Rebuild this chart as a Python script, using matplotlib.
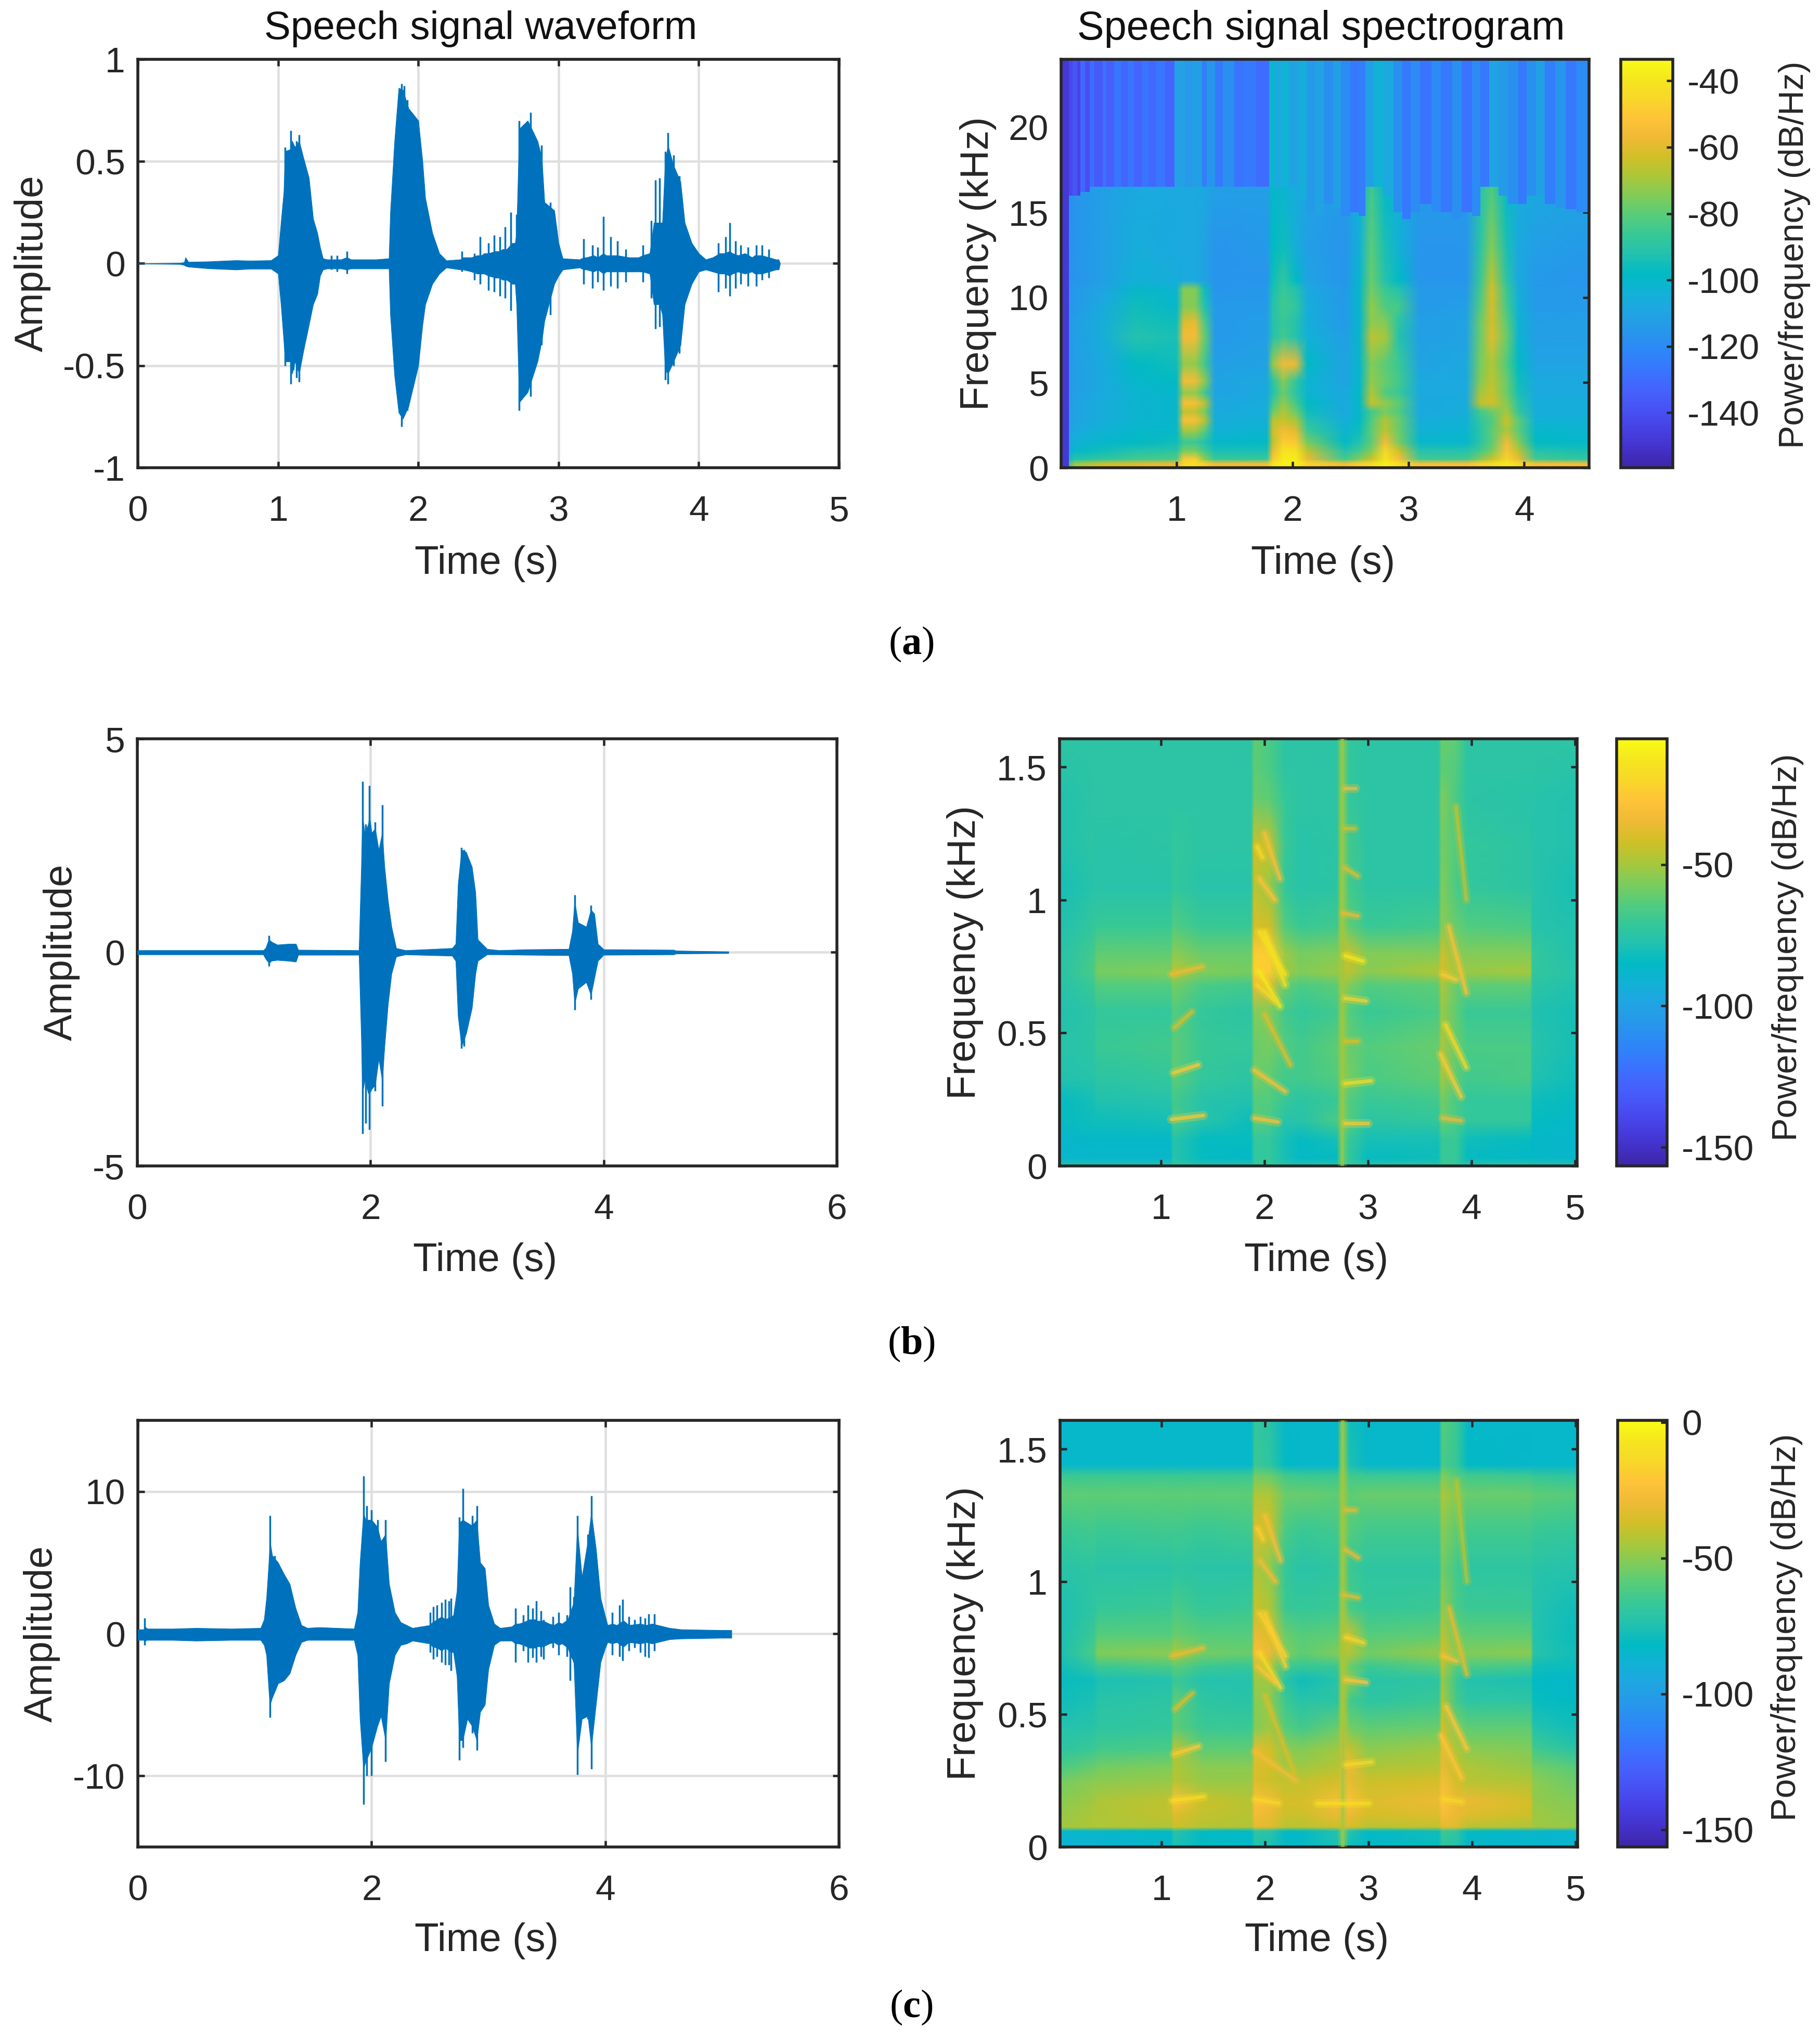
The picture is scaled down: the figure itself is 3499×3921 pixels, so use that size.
#!/usr/bin/env python3

import numpy as np
import matplotlib
matplotlib.use("Agg")
import matplotlib.pyplot as plt
from matplotlib.colors import LinearSegmentedColormap, Normalize

W, H = 3499, 3921
DPI = 250

# ---- waveform envelopes (time, upper, lower)
a_t = [0, .3, .33, .34, .36, .5, .7, .8, .95, 1.0,
       1.02, 1.04, 1.05, 1.09, 1.10, 1.12, 1.15, 1.18, 1.22, 1.25,
       1.28, 1.3, 1.32, 1.35, 1.45, 1.49, 1.52, 1.7, 1.79, 1.8,
       1.83, 1.86, 1.89, 1.93, 2.0, 2.03, 2.05, 2.1, 2.15, 2.2,
       2.3, 2.32, 2.38, 2.42, 2.45, 2.47, 2.5, 2.55, 2.58, 2.6,
       2.63, 2.67, 2.69, 2.7, 2.72, 2.78, 2.85, 2.88, 2.9, 2.97,
       3.0, 3.03, 3.15, 3.18, 3.2, 3.25, 3.28, 3.32, 3.34, 3.38,
       3.42, 3.5, 3.57, 3.6, 3.65, 3.68, 3.7, 3.72, 3.74, 3.76,
       3.78, 3.82, 3.87, 3.9, 3.95, 4.0, 4.05, 4.1, 4.15, 4.18,
       4.22, 4.24, 4.28, 4.33, 4.38, 4.4, 4.45, 4.5, 4.55, 4.57, 4.58]
a_up = [0, .003, .006, .03, .008, .01, .016, .014, .016, .04,
        .2, .35, .55, .56, .6, .57, .6, .52, .42, .22,
        .15, .08, .025, .02, .02, .03, .02, .02, .025, .25,
        .6, .86, .85, .76, .7, .5, .32, .15, .05, .015,
        .02, .03, .03, .04, .04, .05, .05, .06, .06, .07,
        .07, .1, .1, .15, .66, .7, .6, .52, .3, .26,
        .1, .025, .02, .03, .03, .04, .03, .05, .04, .04,
        .04, .03, .03, .04, .05, .2, .2, .2, .2, .5,
        .58, .48, .4, .2, .1, .05, .02, .03, .05, .05,
        .06, .05, .04, .05, .03, .04, .04, .03, .02, .02, 0]
a_low = [0, -.003, -.008, -.012, -.016, -.024, -.03, -.026, -.026, -.05,
         -.2, -.38, -.48, -.48, -.54, -.48, -.54, -.43, -.3, -.2,
         -.15, -.06, -.03, -.025, -.025, -.03, -.025, -.025, -.025, -.25,
         -.55, -.73, -.76, -.7, -.5, -.3, -.2, -.1, -.05, -.02,
         -.03, -.03, -.04, -.05, -.05, -.05, -.06, -.07, -.07, -.08,
         -.08, -.1, -.1, -.2, -.68, -.63, -.48, -.38, -.28, -.1,
         -.06, -.03, -.02, -.03, -.03, -.04, -.03, -.05, -.04, -.04,
         -.04, -.04, -.04, -.04, -.05, -.2, -.2, -.2, -.25, -.52,
         -.54, -.48, -.4, -.2, -.1, -.04, -.03, -.04, -.05, -.05,
         -.06, -.05, -.04, -.05, -.04, -.05, -.05, -.04, -.03, -.03, 0]
# single spikes standing out of the envelope: t, top, bottom
a_spikes = [
    (1.38, .04, -.03), (1.42, .04, -.04), (1.49, .06, -.05), (1.05, .57, -.5), (1.09, .65, -.59), (1.15, .63, -.58),
    (1.11, .58, -.52), (1.13, .6, -.56), (1.88, .88, -.8), (1.9, .87, -.74), (1.92, .8, -.72), (2.31, .06, -.04),
    (2.4, .05, -.08), (2.44, .13, -.1), (2.5, .1, -.13), (2.54, .14, -.14), (2.58, .13, -.16), (2.62, .18, -.17),
    (2.66, .25, -.23), (2.7, .24, -.15), (2.72, .7, -.72), (2.8, .74, -.65), (2.88, .58, -.4), (2.94, .3, -.25),
    (3.18, .12, -.1), (3.24, .09, -.12), (3.28, .08, -.09), (3.32, .23, -.13), (3.37, .13, -.11), (3.42, .11, -.12),
    (3.48, .07, -.09), (3.6, .09, -.09), (3.66, .21, -.17), (3.69, .41, -.32), (3.72, .42, -.31), (3.76, .55, -.57),
    (3.78, .64, -.59), (3.82, .53, -.5), (3.86, .43, -.44), (4.14, .1, -.14), (4.19, .13, -.12), (4.22, .2, -.16),
    (4.26, .11, -.12), (4.3, .09, -.1), (4.35, .08, -.11), (4.41, .09, -.11), (4.45, .09, -.08), (4.5, .07, -.07),
]

b_t = [0, 1.08, 1.1, 1.12, 1.13, 1.15, 1.2, 1.3, 1.36, 1.38,
       1.9, 1.92, 1.93, 1.95, 1.98, 1.99, 2.01, 2.04, 2.07, 2.1,
       2.12, 2.15, 2.18, 2.22, 2.3, 2.55, 2.7, 2.73, 2.75, 2.78,
       2.82, 2.87, 2.9, 2.92, 3.0, 3.1, 3.35, 3.7, 3.73, 3.75,
       3.78, 3.85, 3.89, 3.92, 3.95, 4.0, 4.6, 4.62, 5.07]
b_up = [.05, .05, .1, .25, .3, .25, .18, .2, .2, .06,
        .05, 2, 3.2, 2.8, 3, 3.2, 2.8, 2.9, 2.4, 2.8,
        2, 1.2, .6, .1, .05, .08, .1, .2, 1.6, 2.4,
        2.35, 2, 1.4, .3, .08, .05, .07, .08, .5, 1.2,
        .7, .6, 1, .9, .2, .07, .06, .04, .02]
b_low = [-.05, -.05, -.15, -.22, -.25, -.2, -.18, -.2, -.22, -.06,
         -.06, -2, -3.3, -3, -3.3, -3.3, -3.2, -3.1, -2.5, -3,
         -2.2, -1.2, -.5, -.1, -.05, -.07, -.08, -.2, -1.5, -2.2,
         -1.9, -1.3, -.5, -.2, -.05, -.05, -.06, -.07, -.5, -1.2,
         -.85, -.7, -1, -.6, -.2, -.06, -.05, -.03, -.02]
b_spikes = [
    (1.13, .4, -.32), (1.93, 4, -4.25), (1.99, 3.9, -4.15), (1.96, 3, -4), (2.04, 3.05, -3.25), (2.1, 3.45, -3.6),
    (2.78, 2.45, -2.25), (2.8, 2.4, -2.2), (3.75, 1.35, -1.35), (3.89, 1.1, -1.1),
]

c_t = [0, .05, .06, .08, .3, .5, .8, 1.05, 1.08, 1.1,
       1.12, 1.13, 1.15, 1.2, 1.25, 1.3, 1.35, 1.4, 1.45, 1.55,
       1.85, 1.88, 1.9, 1.93, 1.95, 2.0, 2.05, 2.08, 2.12, 2.15,
       2.2, 2.25, 2.3, 2.35, 2.5, 2.52, 2.56, 2.6, 2.63, 2.68,
       2.7, 2.73, 2.75, 2.78, 2.82, 2.86, 2.9, 2.93, 2.97, 3.0,
       3.05, 3.1, 3.2, 3.23, 3.26, 3.3, 3.35, 3.4, 3.42, 3.47,
       3.52, 3.56, 3.6, 3.63, 3.68, 3.7, 3.73, 3.76, 3.8, 3.85,
       3.88, 3.92, 3.96, 4.0, 4.02, 4.06, 4.1, 4.13, 4.16, 4.2,
       4.3, 4.35, 4.4, 4.45, 4.55, 4.65, 5.0, 5.08]
c_up = [.3, .3, .5, .35, .35, .4, .35, .4, 1, 2.5,
        5, 6.5, 5.5, 5, 4.2, 3.5, 1.8, .6, .4, .45,
        .35, 1.5, 5, 8.5, 8, 8, 7.5, 6.5, 7, 3.5,
        1.5, .8, .6, .4, .6, .8, 1, 1.2, 1, 1.2,
        1.3, 3, 7.8, 8, 7.8, 7.6, 8, 5, 4.6, 2,
        .7, .4, .5, .7, .7, .8, 1, 1, .9, .9,
        .7, .6, .8, .7, 1, 1.5, 2.2, 7.5, 4, 6.5,
        8.5, 6, 2.5, 1.2, .6, .7, .6, .8, .9, .6,
        .7, .6, .7, .6, .4, .3, .25, .25]
c_low = [-.45, -.45, -.5, -.45, -.45, -.5, -.45, -.45, -.8, -1.5,
         -4, -5, -4.5, -3.5, -3.3, -2.8, -1.5, -.6, -.45, -.45,
         -.45, -1.5, -6, -9.5, -9, -8, -6.5, -5.8, -7.5, -3.5,
         -1.5, -.8, -.7, -.5, -.7, -.9, -1, -1.2, -1, -1.3,
         -1.3, -3, -7.5, -7.5, -6, -6.5, -7.5, -5.5, -5, -2.5,
         -.8, -.5, -.5, -.7, -.7, -.8, -1, -1, -.9, -.9,
         -.7, -.6, -.8, -.7, -1, -1.5, -2, -8.5, -6, -5.8,
         -8, -5, -2, -1, -.6, -.7, -.6, -.8, -.9, -.6,
         -.7, -.6, -.7, -.6, -.4, -.35, -.3, -.3]
c_spikes = [
    (.06, 1.1, -.8), (1.13, 8.3, -5.9), (1.17, 5.5, -4), (1.93, 11.1, -12), (1.96, 9, -10), (2.0, 8.7, -10),
    (2.05, 8, -6), (2.12, 8, -9), (2.5, 1.5, -1.3), (2.53, 1.9, -1.8), (2.56, 2, -1.6), (2.6, 2.2, -2),
    (2.63, 2.4, -2.2), (2.66, 2.3, -2.2), (2.68, 2.5, -2.6), (2.75, 8.2, -8.9), (2.78, 10.2, -8), (2.86, 8.3, -7),
    (2.9, 9, -8.2), (3.23, 1.8, -2), (3.3, 1.3, -1.2), (3.34, 2, -2), (3.38, 1.8, -1.7), (3.41, 2.3, -2),
    (3.45, 1.6, -1.6), (3.47, 1, -1.8), (3.55, 1.2, -1), (3.6, 1.5, -1.5), (3.67, 1.3, -1.6), (3.7, 3.3, -3.3),
    (3.73, 2.6, -2), (3.76, 8.3, -9.9), (3.85, 7, -6), (3.88, 9.7, -9.5), (4.06, 1.5, -1.5), (4.12, 2, -1.6),
    (4.15, 2.4, -1.9), (4.2, 1.2, -1.2), (4.25, 1, -1), (4.3, 1.2, -1.3), (4.34, 1.1, -1.6), (4.37, 1.4, -1.7),
    (4.42, 1.4, -1.2),
]

# ---- spectrogram (a): dB on a time/frequency grid, rows from low to high frequency
sa_t = [.03, .12, .35, .65, 1.0, 1.06, 1.16, 1.24, 1.33, 1.78, 1.83, 1.92, 2.03, 2.13,
        2.45, 2.58, 2.68, 2.8, 2.92, 3.1, 3.5, 3.62, 3.72, 3.85, 3.95, 4.1, 4.56]
sa_f = [0, .25, .5, 1, 1.5, 2.2, 2.8, 3.3, 3.8, 4.4, 5.1, 6.1, 7.7, 8.5, 9.5, 10.5, 11, 13, 16.5]
sa_db = [
    [-100, -70, -62, -60, -58, -46, -44, -50, -58, -56, -40, -38, -38, -48, -56, -48, -44, -36, -42, -52, -52, -48, -46, -40, -45, -52, -54],
    [-100, -72, -64, -60, -58, -44, -42, -48, -56, -56, -40, -36, -36, -46, -56, -48, -44, -36, -42, -54, -54, -48, -44, -38, -44, -54, -56],
    [-106, -92, -88, -84, -82, -50, -48, -72, -86, -86, -50, -38, -38, -58, -84, -74, -64, -40, -54, -84, -84, -74, -64, -46, -58, -84, -88],
    [-110, -100, -96, -92, -90, -76, -76, -84, -94, -94, -58, -40, -42, -66, -92, -84, -74, -46, -64, -92, -92, -84, -76, -52, -66, -92, -94],
    [-112, -104, -100, -98, -96, -86, -86, -92, -100, -98, -66, -48, -50, -76, -98, -92, -80, -56, -76, -100, -100, -90, -80, -56, -74, -98, -100],
    [-112, -108, -104, -100, -100, -70, -70, -80, -104, -102, -64, -56, -60, -86, -102, -96, -80, -66, -78, -104, -102, -90, -80, -68, -80, -100, -102],
    [-114, -110, -106, -102, -100, -54, -54, -66, -106, -104, -68, -64, -70, -92, -106, -98, -82, -68, -78, -106, -104, -88, -82, -64, -80, -104, -104],
    [-114, -110, -106, -102, -100, -66, -66, -76, -108, -106, -78, -68, -78, -96, -108, -100, -84, -76, -82, -108, -106, -84, -78, -70, -88, -106, -106],
    [-114, -110, -106, -102, -100, -54, -54, -66, -108, -106, -84, -72, -84, -98, -108, -98, -64, -72, -80, -108, -106, -66, -62, -74, -90, -106, -106],
    [-116, -112, -108, -102, -100, -72, -72, -84, -110, -108, -92, -78, -90, -102, -108, -98, -68, -82, -86, -108, -108, -70, -64, -78, -94, -108, -108],
    [-116, -112, -108, -100, -98, -56, -56, -72, -110, -108, -90, -74, -88, -102, -110, -100, -72, -78, -84, -108, -108, -74, -66, -78, -96, -108, -108],
    [-116, -112, -108, -98, -96, -72, -72, -84, -112, -110, -72, -56, -58, -98, -110, -100, -74, -80, -86, -110, -108, -76, -68, -82, -98, -110, -110],
    [-116, -112, -106, -92, -94, -56, -56, -78, -114, -112, -92, -84, -92, -104, -112, -100, -66, -70, -92, -112, -110, -78, -60, -78, -102, -112, -112],
    [-116, -112, -106, -94, -96, -60, -58, -82, -114, -112, -92, -86, -92, -106, -114, -100, -72, -74, -90, -112, -110, -78, -62, -80, -102, -112, -112],
    [-116, -114, -108, -96, -100, -74, -74, -92, -114, -114, -92, -84, -88, -106, -114, -100, -72, -82, -84, -114, -112, -82, -62, -84, -104, -114, -114],
    [-116, -114, -110, -100, -102, -74, -74, -96, -116, -114, -94, -86, -92, -108, -114, -100, -76, -86, -92, -114, -114, -84, -62, -86, -106, -114, -114],
    [-118, -116, -112, -104, -106, -108, -108, -110, -116, -116, -96, -88, -98, -110, -116, -100, -78, -92, -98, -116, -116, -86, -66, -90, -108, -114, -116],
    [-118, -116, -112, -106, -108, -108, -108, -110, -116, -114, -98, -96, -106, -112, -116, -104, -80, -94, -104, -116, -116, -90, -74, -94, -108, -112, -114],
    [-120, -116, -112, -108, -108, -108, -108, -108, -112, -112, -100, -102, -106, -110, -114, -104, -84, -100, -104, -114, -114, -92, -82, -100, -106, -108, -110],
]
# vertical stripes above the band limit
stripe_t = [0, .07, .10, .14, .17, .21, .25, .29, .36, .39,
            .46, .52, .58, .63, .70, .76, .82, .90, .98, 1.07,
            1.13, 1.22, 1.26, 1.33, 1.40, 1.50, 1.58, 1.68, 1.80, 1.85,
            1.90, 1.97, 2.05, 2.12, 2.2, 2.27, 2.35, 2.42, 2.5, 2.57,
            2.63, 2.70, 2.78, 2.87, 2.95, 3.02, 3.1, 3.2, 3.28, 3.38,
            3.46, 3.55, 3.62, 3.70, 3.78, 3.86, 3.95, 4.02, 4.1, 4.18,
            4.27, 4.36, 4.45, 4.56]
stripe_db = [-148, -142, -138, -144, -132, -140, -130, -136, -128, -134,
             -127, -132, -127, -133, -128, -132, -127, -133, -111, -115,
             -112, -124, -116, -126, -118, -128, -126, -130, -102, -108,
             -104, -110, -106, -114, -110, -118, -112, -120, -126, -124,
             -112, -104, -108, -118, -126, -120, -128, -120, -126, -118,
             -128, -120, -126, -110, -114, -118, -126, -118, -112, -124,
             -116, -126, -120]
stripe_cut = [0, 16, 16, 16, 16.2, 16.2, 16.5, 16.5, 16.5, 16.5,
              16.5, 16.5, 16.5, 16.5, 16.5, 16.5, 16.5, 16.5, 16.5, 16.5,
              16.5, 16.5, 16.5, 16.5, 16.5, 16.5, 16.5, 16.5, 16.5, 16.5,
              16.5, 16.5, 15.7, 15, 14.8, 15.5, 15.3, 14.8, 15, 14.8,
              16.5, 16.5, 16, 15, 14.6, 15, 15.5, 15, 15, 14.6,
              15, 14.8, 16.5, 16.5, 16, 15.5, 15.5, 16, 16, 15.5,
              15.3, 15.2, 15]

# ---- spectrograms (b) and (c)
s_t = [.02, .35, .38, 1.09, 1.12, 1.4, 1.87, 1.9, 2.05, 2.2, 2.35,
       2.71, 2.74, 2.82, 3.0, 3.68, 3.71, 3.85, 3.96, 4.57, 4.59, 5.02]
sb_f = [0, .03, .1, .17, .25, .33, .45, .58, .68, .73, .8, .9, 1.05, 1.2, 1.38, 1.5, 1.606]
sb_db = [
    [-78, -78, -78, -78, -72, -78, -78, -72, -72, -76, -78, -76, -68, -72, -76, -76, -70, -72, -76, -76, -76, -78],
    [-88, -88, -88, -88, -76, -84, -86, -72, -72, -80, -86, -84, -68, -72, -84, -82, -70, -70, -84, -86, -86, -88],
    [-88, -86, -86, -86, -76, -84, -84, -72, -72, -80, -84, -80, -66, -70, -80, -80, -70, -70, -82, -84, -86, -88],
    [-84, -82, -82, -80, -66, -76, -82, -62, -66, -76, -76, -66, -56, -64, -74, -72, -60, -66, -72, -72, -84, -86],
    [-84, -80, -78, -76, -68, -76, -78, -64, -64, -70, -74, -70, -58, -64, -70, -68, -58, -66, -72, -72, -82, -84],
    [-78, -76, -74, -72, -62, -72, -74, -58, -62, -68, -68, -64, -54, -58, -66, -62, -50, -62, -68, -66, -78, -82],
    [-76, -74, -70, -68, -62, -70, -72, -60, -58, -64, -68, -62, -52, -60, -64, -60, -48, -60, -66, -66, -76, -80],
    [-78, -74, -72, -72, -64, -72, -74, -56, -56, -68, -72, -68, -54, -64, -70, -66, -52, -62, -70, -70, -78, -80],
    [-76, -70, -64, -64, -58, -66, -68, -36, -38, -60, -66, -62, -50, -56, -64, -62, -48, -60, -62, -62, -74, -78],
    [-76, -66, -58, -56, -46, -56, -58, -22, -24, -50, -56, -52, -44, -46, -54, -48, -40, -50, -52, -50, -72, -76],
    [-76, -68, -62, -62, -54, -60, -60, -24, -24, -52, -58, -56, -42, -44, -56, -56, -42, -54, -56, -56, -72, -78],
    [-78, -72, -70, -70, -64, -70, -70, -40, -42, -64, -70, -68, -52, -62, -70, -68, -54, -60, -64, -66, -76, -78],
    [-80, -76, -76, -76, -72, -76, -76, -46, -52, -72, -76, -74, -54, -68, -74, -74, -56, -66, -72, -74, -76, -80],
    [-78, -74, -76, -74, -72, -74, -74, -42, -44, -70, -76, -74, -56, -68, -74, -74, -58, -64, -72, -74, -76, -78],
    [-78, -74, -74, -74, -74, -74, -74, -60, -62, -72, -74, -74, -58, -72, -74, -74, -56, -66, -74, -76, -76, -78],
    [-76, -74, -74, -74, -74, -74, -74, -62, -66, -74, -74, -74, -60, -72, -74, -74, -62, -64, -74, -74, -74, -76],
    [-74, -74, -74, -74, -74, -74, -74, -62, -66, -74, -74, -74, -58, -72, -74, -74, -60, -62, -74, -74, -74, -74],
]
sc_f = [0, .06, .075, .12, .17, .25, .3, .37, .45, .55, .63, .68, .73, .8, .9, 1.05, 1.2, 1.33, 1.4, 1.44, 1.608]
sc_db = [
    [-88, -88, -88, -84, -76, -82, -84, -74, -76, -84, -84, -76, -66, -78, -84, -80, -70, -72, -84, -86, -86, -86],
    [-84, -84, -84, -82, -72, -82, -82, -70, -72, -82, -82, -74, -62, -74, -82, -78, -66, -70, -82, -84, -84, -86],
    [-46, -44, -44, -44, -38, -42, -44, -32, -34, -42, -42, -38, -30, -36, -42, -40, -32, -34, -42, -44, -46, -48],
    [-48, -44, -44, -40, -34, -40, -42, -28, -30, -38, -38, -30, -26, -30, -36, -34, -26, -30, -34, -38, -46, -50],
    [-50, -46, -44, -40, -24, -38, -42, -24, -28, -36, -36, -26, -20, -24, -34, -30, -22, -30, -30, -36, -48, -52],
    [-54, -50, -50, -48, -42, -48, -48, -34, -38, -40, -40, -36, -26, -32, -38, -36, -26, -36, -42, -44, -50, -56],
    [-62, -56, -54, -52, -44, -50, -50, -34, -36, -46, -46, -42, -30, -30, -44, -42, -30, -40, -44, -48, -54, -60],
    [-70, -66, -64, -62, -40, -58, -58, -32, -36, -50, -52, -46, -32, -40, -50, -46, -32, -44, -50, -52, -64, -72],
    [-74, -72, -70, -68, -58, -66, -66, -52, -46, -60, -64, -56, -40, -54, -58, -56, -36, -52, -58, -58, -74, -78],
    [-78, -76, -72, -70, -58, -70, -72, -50, -50, -66, -72, -70, -44, -64, -70, -66, -44, -64, -70, -70, -80, -82],
    [-80, -78, -76, -74, -66, -74, -74, -46, -46, -72, -78, -72, -42, -50, -72, -70, -48, -66, -74, -76, -82, -84],
    [-78, -70, -66, -62, -58, -66, -68, -40, -44, -64, -68, -66, -44, -56, -66, -60, -42, -60, -62, -64, -78, -80],
    [-76, -62, -52, -50, -44, -54, -56, -24, -30, -52, -58, -52, -40, -44, -54, -48, -36, -50, -52, -50, -72, -78],
    [-76, -66, -60, -60, -56, -60, -60, -30, -34, -56, -60, -58, -36, -40, -60, -58, -40, -56, -58, -58, -74, -80],
    [-76, -70, -68, -66, -62, -68, -66, -38, -44, -66, -68, -66, -48, -62, -68, -66, -48, -62, -66, -66, -74, -78],
    [-72, -70, -72, -72, -70, -72, -72, -44, -50, -68, -72, -70, -52, -66, -70, -70, -54, -64, -70, -70, -72, -74],
    [-66, -64, -66, -64, -64, -66, -64, -34, -38, -62, -66, -64, -50, -60, -64, -64, -50, -58, -64, -64, -66, -68],
    [-58, -58, -58, -58, -58, -58, -58, -44, -44, -56, -56, -58, -48, -58, -56, -56, -44, -52, -56, -56, -58, -60],
    [-66, -66, -66, -66, -66, -66, -66, -54, -56, -64, -66, -66, -52, -64, -66, -66, -52, -60, -64, -66, -68, -70],
    [-84, -84, -84, -84, -84, -84, -84, -66, -70, -82, -84, -84, -58, -76, -84, -84, -62, -68, -82, -84, -84, -84],
    [-84, -84, -84, -84, -84, -84, -84, -68, -72, -84, -84, -84, -60, -78, -84, -84, -60, -66, -84, -84, -84, -84],
]

# harmonic streaks: t0, f0, t1, f1, dB
sb_streaks = [
    (1.10, .175, 1.41, .19, -25), (1.12, .35, 1.36, .38, -25), (1.13, .52, 1.3, .58, -40), (1.1, .72, 1.4, .75, -35),
    (1.9, .18, 2.13, .165, -30), (1.9, .36, 2.2, .28, -30), (2.0, .57, 2.25, .38, -38),
    (1.95, .88, 2.2, .72, -15), (1.95, .73, 2.15, .6, -12), (2.0, .88, 2.2, .68, -15), (1.93, .68, 2.1, .62, -20),
    (2.0, 1.25, 2.15, 1.08, -30), (1.93, 1.2, 1.98, 1.16, -20), (1.95, 1.08, 2.1, 1.0, -28),
    (2.75, 0, 2.75, 1.606, -52), (2.78, .16, 3.0, .16, -25), (2.78, .31, 3.03, .32, -18), (2.78, .79, 2.95, .77, -12),
    (2.78, .63, 2.98, .62, -22), (2.76, .95, 2.9, .94, -35), (2.78, 1.12, 2.9, 1.09, -38), (2.78, 1.42, 2.88, 1.42, -32),
    (2.78, 1.27, 2.87, 1.27, -40), (2.78, .47, 2.9, .47, -40),
    (3.72, .18, 3.9, .17, -35), (3.75, .53, 3.95, .37, -20), (3.7, .42, 3.9, .26, -25), (3.78, .9, 3.95, .65, -30),
    (3.72, .72, 3.85, .7, -25), (3.85, 1.35, 3.95, 1.0, -45),
]
sc_streaks = [
    (1.10, .175, 1.41, .19, -12), (1.12, .35, 1.36, .38, -20), (1.13, .52, 1.3, .58, -35), (1.1, .72, 1.4, .75, -30),
    (1.9, .18, 2.13, .165, -15), (1.9, .36, 2.3, .25, -28), (2.0, .57, 2.28, .28, -35),
    (1.95, .88, 2.2, .72, -18), (1.95, .73, 2.15, .6, -14), (2.0, .88, 2.2, .68, -18), (1.93, .68, 2.1, .62, -22),
    (2.0, 1.25, 2.15, 1.08, -26), (1.93, 1.2, 1.98, 1.16, -18), (1.95, 1.08, 2.1, 1.0, -28),
    (2.75, 0, 2.75, 1.608, -46), (2.5, .165, 3.0, .165, -12), (2.78, .31, 3.03, .32, -14), (2.78, .79, 2.95, .77, -16),
    (2.78, .63, 2.98, .62, -22), (2.76, .95, 2.9, .94, -32), (2.78, 1.12, 2.9, 1.09, -30), (2.78, 1.27, 2.87, 1.27, -32),
    (3.72, .18, 3.9, .17, -15), (3.75, .53, 3.95, .37, -22), (3.7, .42, 3.9, .26, -22), (3.78, .9, 3.95, .65, -32),
    (3.72, .72, 3.85, .7, -25), (3.85, 1.38, 3.95, 1.0, -42),
]

parula = [
    (0.2422, 0.1504, 0.6603), (0.2647, 0.1978, 0.7952), (0.2783, 0.2559, 0.8991), (0.2810, 0.3228, 0.9579),
    (0.2699, 0.3892, 0.9906), (0.2206, 0.4603, 0.9973), (0.1786, 0.5289, 0.9682), (0.1540, 0.5902, 0.9218),
    (0.1248, 0.6459, 0.8883), (0.0689, 0.6948, 0.8394), (0.0067, 0.7301, 0.7660), (0.1408, 0.7584, 0.6842),
    (0.2161, 0.7843, 0.5923), (0.3406, 0.8008, 0.4789), (0.5044, 0.7993, 0.3480), (0.6720, 0.7793, 0.2227),
    (0.8203, 0.7498, 0.1535), (0.9393, 0.7288, 0.2100), (0.9970, 0.7659, 0.2199), (0.9728, 0.8432, 0.1610),
    (0.9600, 0.9000, 0.1200), (0.9769, 0.9839, 0.0805),
]
PARULA = LinearSegmentedColormap.from_list("parula", parula, N=256)

WAVE_COLOR = "#0072BD"
DARK = "#262626"
FONT = "Liberation Sans"


def px_axes(fig, left, right, top, bottom):
    return fig.add_axes([left / W, 1 - bottom / H, (right - left) / W, (bottom - top) / H])


def style_box(ax):
    for spine in ax.spines.values():
        spine.set_color(DARK)
        spine.set_linewidth(1.6)
    ax.tick_params(direction="in", length=3.6, width=1.3, top=True, right=True,
                   color=DARK, labelcolor=DARK, labelsize=20)
    ax.tick_params(axis="x", pad=15)
    ax.tick_params(axis="y", pad=7)


def wave_panel(fig, box, t, up, low, spikes, xticks, yticks, xlim, ylim, ylabel_x, xlabel_y):
    ax = px_axes(fig, *box)
    ax.fill_between(t, low, up, color=WAVE_COLOR, lw=0.3, zorder=3)
    spike_t, spike_top, spike_bot = zip(*spikes)
    ax.vlines(spike_t, spike_bot, spike_top, color=WAVE_COLOR, lw=1.0, zorder=3)
    ax.set_xlim(*xlim)
    ax.set_ylim(*ylim)
    ax.set_xticks(xticks)
    ax.set_yticks(yticks)
    ax.set_yticklabels([f"{v:g}" for v in yticks])
    ax.grid(True, color="#dfdfdf", lw=1.3, zorder=0)
    ax.set_axisbelow(True)
    style_box(ax)
    label_y = (box[2] + box[3]) / 2
    fig.text(ylabel_x / W, 1 - label_y / H, "Amplitude", rotation=90, ha="center", va="center",
             fontsize=22, color=DARK)
    fig.text((box[0] + box[1]) / 2 / W - 0.001, 1 - (xlabel_y + 5) / H, "Time (s)", ha="center", va="center",
             fontsize=22, color=DARK)
    return ax


def spec_panel(fig, box, cbox, t, f, db, clim, xticks, yticks, xlim, ylim, cticks,
               ylabel_x, xlabel_y, clabel_x, clabel_y, streaks=None):
    ax = px_axes(fig, *box)
    norm = Normalize(*clim)
    mesh = ax.pcolormesh(t, f, np.array(db), shading="gouraud", cmap=PARULA, norm=norm, rasterized=True)
    if streaks:
        for t0, f0, t1, f1, level in streaks:
            color = PARULA(norm(level))
            ax.plot([t0, t1], [f0, f1], color=color, lw=5, alpha=0.3, solid_capstyle="round", zorder=3)
            ax.plot([t0, t1], [f0, f1], color=color, lw=2, alpha=0.7, solid_capstyle="round", zorder=3)
    ax.set_xlim(*xlim)
    ax.set_ylim(*ylim)
    ax.set_xticks(xticks)
    ax.set_yticks(yticks)
    ax.set_yticklabels([f"{v:g}" for v in yticks])
    style_box(ax)

    cax = px_axes(fig, *cbox)
    cbar = fig.colorbar(mesh, cax=cax)
    cbar.set_ticks(cticks)
    cbar.set_ticklabels([f"{v:g}" for v in cticks])
    cbar.outline.set_edgecolor(DARK)
    cbar.outline.set_linewidth(1.6)
    cax.tick_params(direction="in", length=3.6, width=1.3, color=DARK, labelcolor=DARK, labelsize=20, pad=8)

    label_y = (box[2] + box[3]) / 2
    fig.text((ylabel_x + 5) / W, 1 - label_y / H, "Frequency (kHz)", rotation=90, ha="center", va="center",
             fontsize=22, color=DARK)
    fig.text((box[0] + box[1]) / 2 / W - 0.001, 1 - (xlabel_y + 5) / H, "Time (s)", ha="center", va="center",
             fontsize=22, color=DARK)
    fig.text((clabel_x + 5) / W, 1 - clabel_y / H, "Power/frequency (dB/Hz)", rotation=90, ha="center",
             va="center", fontsize=19.2, color=DARK)
    return ax, norm


def main():
    plt.rcParams.update({
        "font.family": [FONT, "DejaVu Sans"],
        "axes.unicode_minus": False,
        "mathtext.fontset": "custom",
        "mathtext.rm": "Liberation Serif",
        "mathtext.bf": "Liberation Serif:bold",
    })

    fig = plt.figure(figsize=((W + 0.01) / DPI, (H + 0.01) / DPI), dpi=DPI)

    wave_panel(fig, (265, 1613, 114, 899), a_t, a_up, a_low, a_spikes, [0, 1, 2, 3, 4, 5], [-1, -0.5, 0, 0.5, 1],
               (0, 5), (-1, 1), 62, 1078)
    wave_panel(fig, (264, 1609, 1420, 2241), b_t, b_up, b_low, b_spikes, [0, 2, 4, 6], [-5, 0, 5],
               (0, 6), (-5, 5), 118, 2418)
    wave_panel(fig, (265, 1613, 2730, 3550), c_t, c_up, c_low, c_spikes, [0, 2, 4, 6], [-10, 0, 10],
               (0, 6), (-15, 15), 80, 3725)

    ax, norm = spec_panel(fig, (2040, 3055, 114, 899), (3116, 3216, 114, 899), sa_t, sa_f, sa_db,
                          (-156.6, -33.5), [1, 2, 3, 4], [0, 5, 10, 15, 20], (0.003, 4.56), (0, 24),
                          [-140, -120, -100, -80, -60, -40], 1875, 1078, 3445, 490)
    ax.bar(stripe_t[:-1], 24 - np.array(stripe_cut), bottom=stripe_cut, width=np.diff(stripe_t), align="edge",
           color=[PARULA(norm(v)) for v in stripe_db], lw=0, zorder=2)

    spec_panel(fig, (2037, 3032, 1420, 2241), (3108, 3205, 1420, 2241), s_t, sb_f, sb_db,
               (-156.6, -5.5), [1, 2, 3, 4, 5], [0, 0.5, 1, 1.5], (0.02, 5.02), (0, 1.606),
               [-150, -100, -50], 1850, 2418, 3432, 1821, sb_streaks)
    spec_panel(fig, (2038, 3033, 2730, 3550), (3110, 3205, 2730, 3550), s_t, sc_f, sc_db,
               (-156.4, 0.7), [1, 2, 3, 4, 5], [0, 0.5, 1, 1.5], (0.02, 5.02), (0, 1.608),
               [-150, -100, -50, 0], 1850, 3725, 3430, 3128, sc_streaks)

    fig.text(924 / W, 1 - 55 / H, "Speech signal waveform", ha="center", va="center", fontsize=22, color="#111111")
    fig.text(2540 / W, 1 - 55 / H, "Speech signal spectrogram", ha="center", va="center", fontsize=22.3, color="#111111")

    for name, y in (("a", 1238), ("b", 2583), ("c", 3858)):
        fig.text(1752 / W, 1 - y / H, rf"$\mathrm{{(}}\mathbf{{{name}}}\mathrm{{)}}$", ha="center", va="center",
                 fontsize=22, color="black")

    fig.savefig("out.png", dpi=DPI)
    plt.close(fig)


if __name__ == "__main__":
    main()
